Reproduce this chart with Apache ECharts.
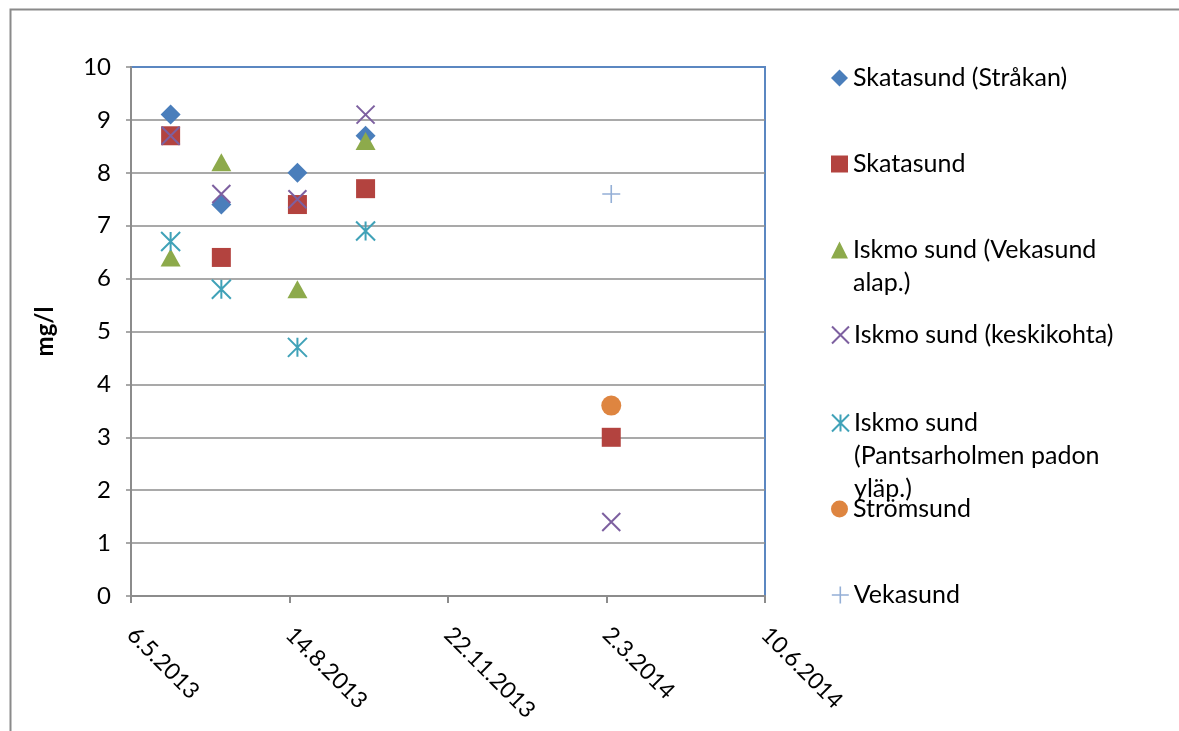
<!DOCTYPE html>
<html><head><meta charset="utf-8">
<script src="https://cdn.jsdelivr.net/npm/echarts@6/dist/echarts.min.js"></script>
<style>html,body{margin:0;padding:0;background:#fff}#c{width:1179px;height:731px}</style>
</head><body><div id="c"></div>
<script>
// ---- data ----
const sampleDates = ['2013-05-31', '2013-07-02', '2013-08-19', '2013-10-01', '2014-03-05'];
const axisStartDate = '2013-05-06';
const axisEndDate = '2014-06-10';
const axisStepDays = 100;
const seriesNames = [
  'Skatasund (Stråkan)',
  'Skatasund',
  'Iskmo sund (Vekasund alap.)',
  'Iskmo sund (keskikohta)',
  'Iskmo sund (Pantsarholmen padon yläp.)',
  'Strömsund',
  'Vekasund'
];
const legendLabels = [
  'Skatasund (Stråkan)',
  'Skatasund',
  'Iskmo sund (Vekasund\nalap.)',
  'Iskmo sund (keskikohta)',
  'Iskmo sund\n(Pantsarholmen padon\nyläp.)',
  'Strömsund',
  'Vekasund'
];
const skatasundStrakan = [9.1, 7.4, 8.0, 8.7, null];
const skatasund = [8.7, 6.4, 7.4, 7.7, 3.0];
const iskmoVekasundAlap = [6.4, 8.2, 5.8, 8.6, null];
const iskmoKeskikohta = [8.7, 7.6, 7.5, 9.1, 1.4];
const iskmoPantsarholmen = [6.7, 5.8, 4.7, 6.9, null];
const stromsund = [null, null, null, null, 3.6];
const vekasund = [null, null, null, null, 7.6];
const yAxisName = 'mg/l';

// ---- helpers ----
function toSerial(s) {
  const [y, m, d] = s.split('-').map(Number);
  return Math.round((Date.UTC(y, m - 1, d) - Date.UTC(1899, 11, 30)) / 86400000);
}
function serialToLabel(v) {
  const dt = new Date(Date.UTC(1899, 11, 30) + v * 86400000);
  return dt.getUTCDate() + '.' + (dt.getUTCMonth() + 1) + '.' + dt.getUTCFullYear();
}
const xs = sampleDates.map(toSerial);
function pts(vals) {
  const out = [];
  vals.forEach((v, i) => { if (v !== null) out.push([xs[i], v]); });
  return out;
}

const FONT = 'Lato';
const allValues = [skatasundStrakan, skatasund, iskmoVekasundAlap, iskmoKeskikohta, iskmoPantsarholmen, stromsund, vekasund];
const styles = [
  { symbol: 'diamond', size: [20, 20], color: '#4A7EBB', fill: true },
  { symbol: 'rect', size: [19, 19], color: '#B3433F', fill: true },
  { symbol: 'triangle', size: [20, 18], color: '#8DAA4B', fill: true },
  { symbol: 'path://M0,0L10,10M10,0L0,10', size: [18, 18], color: '#7D60A0', fill: false, lw: 2 },
  { symbol: 'path://M0,0L10,10M10,0L0,10M5,0L5,10', size: [19, 19], color: '#40A2B8', fill: false, lw: 2 },
  { symbol: 'circle', size: [20, 20], color: '#DE8540', fill: true },
  { symbol: 'path://M5,0L5,10M0,5L10,5', size: [18, 18], color: '#94AFD6', fill: false, lw: 1.6 }
];
function itemStyleFor(st) {
  return st.fill ? { color: st.color, opacity: 1 }
                 : { color: 'rgba(0,0,0,0)', borderColor: st.color, borderWidth: st.lw, opacity: 1 };
}

const series = seriesNames.map((name, i) => ({
  name: name,
  type: 'scatter',
  symbol: styles[i].symbol,
  symbolSize: styles[i].size,
  itemStyle: itemStyleFor(styles[i]),
  emphasis: { disabled: true },
  data: pts(allValues[i])
}));

const legendCentersY = [78, 164, 250, 335, 423, 509, 595];
const LH = 33;
const legends = seriesNames.map((name, i) => {
  const n = legendLabels[i].split('\n').length;
  const blockH = (2 * n - 1) * LH;
  const text = ' \n'.repeat(n - 1) + legendLabels[i];
  return {
    left: 831,
    top: legendCentersY[i] - blockH / 2,
    orient: 'vertical',
    padding: 0,
    itemWidth: 17,
    itemHeight: 17,
    itemGap: 0,
    selectedMode: false,
    data: [{ name: name, icon: styles[i].symbol, itemStyle: itemStyleFor(styles[i]) }],
    formatter: () => text,
    textStyle: { fontFamily: FONT, fontSize: 25, color: '#000', lineHeight: LH }
  };
});

const chart = echarts.init(document.getElementById('c'), null, { renderer: 'canvas' });
chart.setOption({
  animation: false,
  backgroundColor: '#fff',
  graphic: [{
    type: 'rect', left: 8, top: 7,
    shape: { width: 1250, height: 800 },
    style: { fill: 'none', stroke: '#8A8A8A', lineWidth: 2 },
    silent: true, z: -10
  }],
  grid: {
    left: 131, right: 414, top: 67, bottom: 135,
    show: true, borderColor: '#5B87C1', borderWidth: 2,
    containLabel: false, outerBoundsMode: 'none'
  },
  legend: legends,
  xAxis: {
    type: 'value',
    min: toSerial(axisStartDate),
    max: toSerial(axisEndDate),
    interval: axisStepDays,
    splitLine: { show: false },
    axisLine: { show: true, lineStyle: { color: '#8C8C8C', width: 2 } },
    axisTick: { show: true, length: 7, lineStyle: { color: '#8C8C8C', width: 2 } },
    axisLabel: {
      rotate: -45, margin: 35, align: 'left',
      fontFamily: FONT, fontSize: 23, color: '#000',
      formatter: v => serialToLabel(v)
    }
  },
  yAxis: {
    type: 'value', min: 0, max: 10, interval: 1,
    name: yAxisName, nameLocation: 'middle', nameGap: 74,
    nameTextStyle: { fontFamily: FONT, fontSize: 24, fontWeight: 'bold', color: '#000' },
    splitLine: { show: true, showMaxLine: false, lineStyle: { color: '#8C8C8C', width: 1.5 } },
    axisLine: { show: true, lineStyle: { color: '#8C8C8C', width: 2 } },
    axisTick: { show: true, length: 5, lineStyle: { color: '#8C8C8C', width: 1.5 } },
    axisLabel: { margin: 20, fontFamily: FONT, fontSize: 24, color: '#000' }
  },
  series: series
});
</script>
</body></html>
